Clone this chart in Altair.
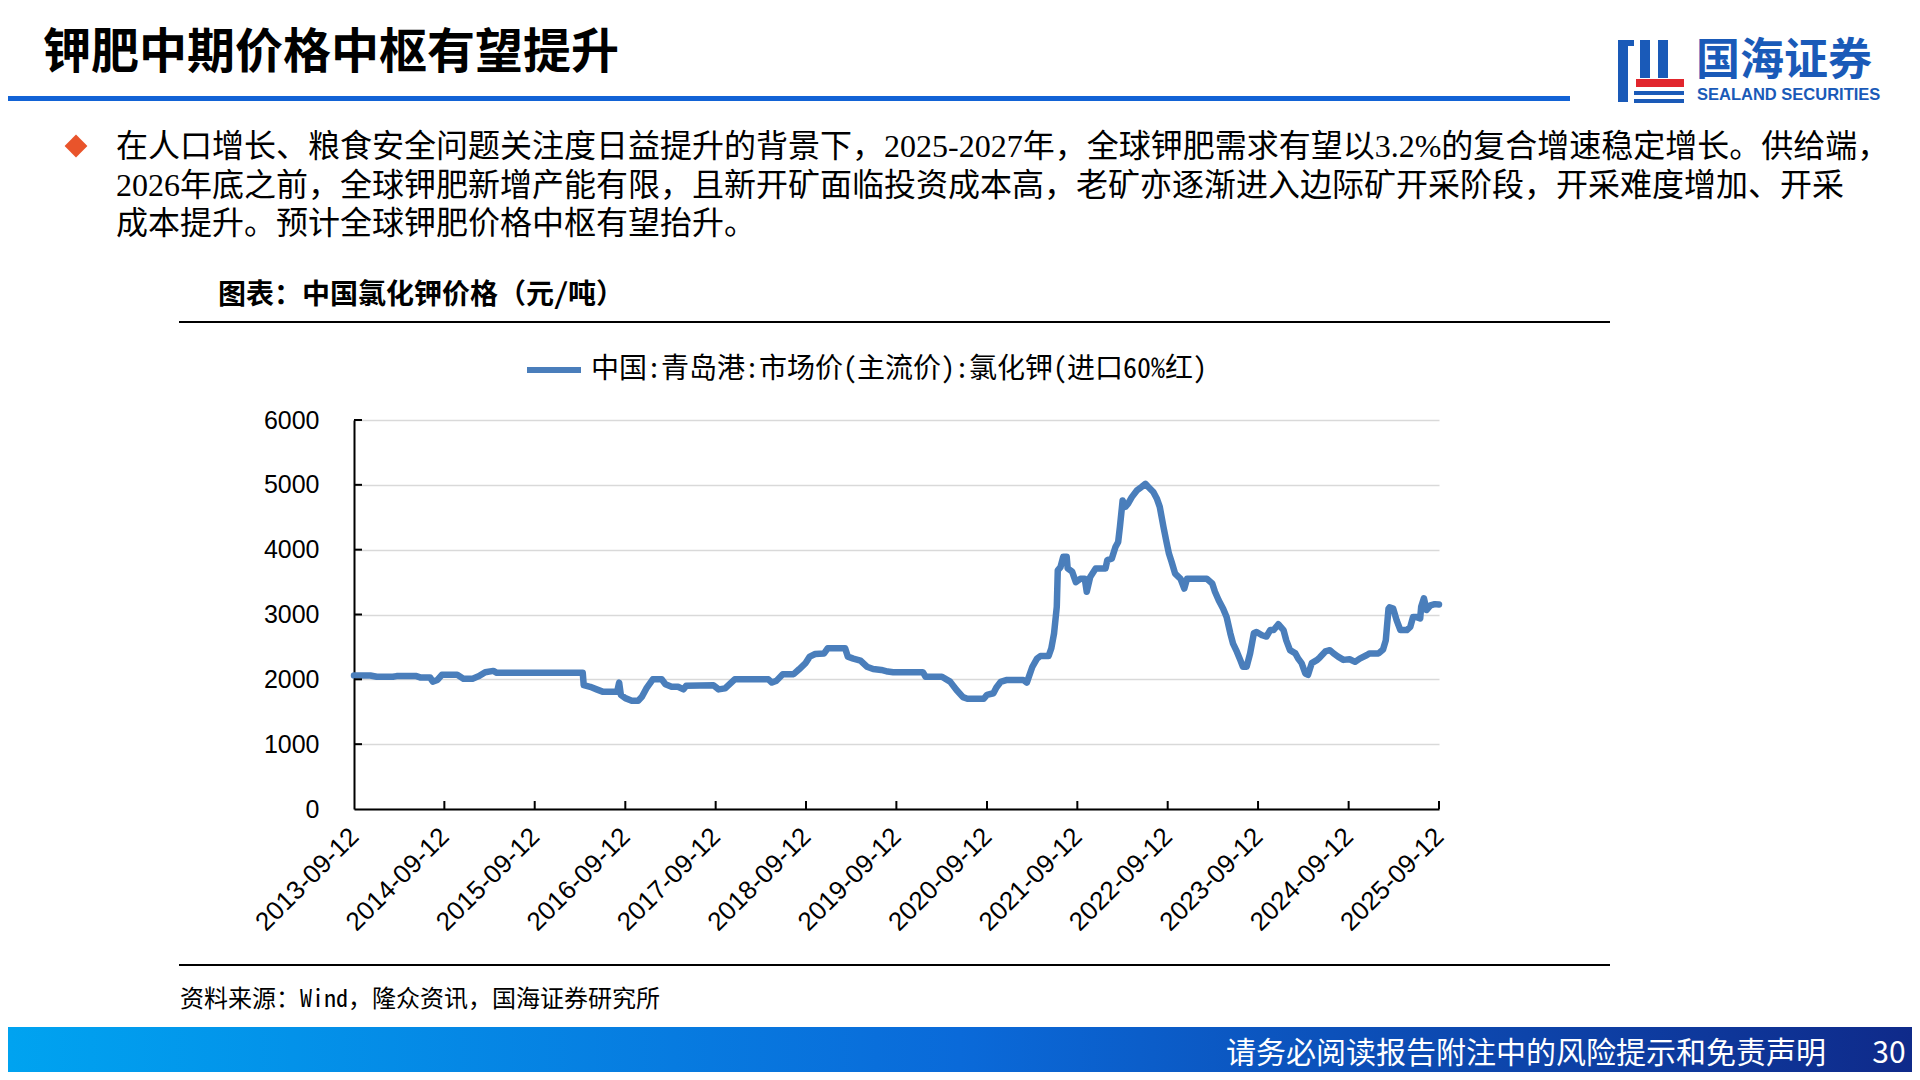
import altair as alt
import pandas as pd

# ---------------- data ----------------
dates = [
    "2013-09-12", "2013-11-17", "2013-12-13", "2014-02-16", "2014-03-03", "2014-05-22",
    "2014-06-06", "2014-07-16", "2014-07-27", "2014-08-15", "2014-09-02", "2014-11-03",
    "2014-11-28", "2015-01-04", "2015-01-30", "2015-02-24", "2015-03-29", "2015-04-12",
    "2016-03-24", "2016-03-28", "2016-04-23", "2016-05-19", "2016-06-12", "2016-08-10",
    "2016-08-18", "2016-08-25", "2016-09-12", "2016-10-08", "2016-11-03", "2016-11-18",
    "2016-12-06", "2017-01-01", "2017-02-06", "2017-02-21", "2017-03-18", "2017-04-13",
    "2017-05-05", "2017-05-16", "2017-09-03", "2017-09-24", "2017-10-20", "2017-11-28",
    "2018-04-13", "2018-04-27", "2018-05-16", "2018-06-10", "2018-07-24", "2018-08-15",
    "2018-09-09", "2018-09-27", "2018-10-19", "2018-11-24", "2018-12-09", "2019-02-17",
    "2019-02-28", "2019-03-22", "2019-04-20", "2019-05-16", "2019-06-10", "2019-07-13",
    "2019-08-08", "2019-08-30", "2019-12-28", "2020-01-08", "2020-03-14", "2020-04-16",
    "2020-05-12", "2020-06-07", "2020-06-25", "2020-08-30", "2020-09-12", "2020-10-08",
    "2020-10-20", "2020-11-06", "2020-12-02", "2021-02-06", "2021-02-20", "2021-03-14",
    "2021-04-02", "2021-04-16", "2021-05-19", "2021-05-30", "2021-06-10", "2021-06-21",
    "2021-06-25", "2021-07-06", "2021-07-17", "2021-07-31", "2021-08-04", "2021-08-22",
    "2021-09-06", "2021-09-24", "2021-10-12", "2021-10-20", "2021-11-03", "2021-11-25",
    "2022-01-04", "2022-01-11", "2022-01-29", "2022-02-13", "2022-02-24", "2022-03-03",
    "2022-03-14", "2022-03-25", "2022-04-05", "2022-04-20", "2022-05-12", "2022-05-30",
    "2022-06-14", "2022-06-28", "2022-07-16", "2022-07-31", "2022-08-11", "2022-08-26",
    "2022-09-06", "2022-09-17", "2022-09-28", "2022-10-12", "2022-11-03", "2022-11-18",
    "2022-11-29", "2023-02-17", "2023-03-11", "2023-03-22", "2023-04-06", "2023-04-24",
    "2023-05-08", "2023-05-23", "2023-06-03", "2023-06-18", "2023-07-02", "2023-07-13",
    "2023-07-28", "2023-08-11", "2023-08-26", "2023-09-06", "2023-09-28", "2023-10-16",
    "2023-10-31", "2023-11-14", "2023-12-03", "2023-12-24", "2024-01-04", "2024-01-19",
    "2024-02-10", "2024-02-21", "2024-03-06", "2024-03-21", "2024-04-01", "2024-04-16",
    "2024-05-08", "2024-05-19", "2024-06-10", "2024-06-28", "2024-07-13", "2024-07-31",
    "2024-08-22", "2024-09-16", "2024-10-08", "2024-10-27", "2024-11-25", "2024-12-06",
    "2025-01-11", "2025-01-29", "2025-02-09", "2025-02-20", "2025-02-24", "2025-03-11",
    "2025-03-25", "2025-04-09", "2025-05-05", "2025-05-19", "2025-05-30", "2025-06-14",
    "2025-06-28", "2025-07-02", "2025-07-13", "2025-07-24", "2025-08-08", "2025-08-26",
    "2025-09-12",
]
prices = [
    2060, 2060, 2040, 2040, 2050, 2050,
    2030, 2030, 1965, 1990, 2070, 2070,
    2010, 2010, 2050, 2110, 2130, 2100,
    2100, 1910, 1885, 1845, 1810, 1810,
    1950, 1760, 1710, 1670, 1670, 1730,
    1860, 2000, 2000, 1925, 1885, 1885,
    1845, 1900, 1910, 1845, 1860, 2000,
    2000, 1950, 1980, 2080, 2080, 2155,
    2245, 2350, 2390, 2400, 2480, 2480,
    2350, 2320, 2290, 2195, 2160, 2145,
    2120, 2110, 2110, 2040, 2040, 1965,
    1835, 1725, 1700, 1700, 1760, 1785,
    1875, 1960, 1990, 1990, 1950, 2190,
    2320, 2360, 2360, 2480, 2710, 3120,
    3680, 3730, 3890, 3890, 3710, 3660,
    3500, 3550, 3550, 3350, 3580, 3710,
    3710, 3840, 3860, 4040, 4120, 4350,
    4760, 4660, 4710, 4810, 4920, 4970,
    5015, 4960, 4890, 4780, 4660, 4350,
    4140, 3940, 3810, 3630, 3550, 3400,
    3550, 3550, 3480, 3350, 3220, 3090,
    2960, 2710, 2550, 2430, 2300, 2195,
    2195, 2400, 2710, 2730, 2680, 2660,
    2760, 2760, 2850, 2760, 2600, 2450,
    2400, 2320, 2250, 2090, 2070, 2250,
    2300, 2340, 2430, 2450, 2400, 2350,
    2300, 2310, 2270, 2320, 2375, 2400,
    2400, 2460, 2600, 3090, 3110, 3090,
    2910, 2760, 2760, 2810, 2960, 2960,
    2940, 3120, 3250, 3070, 3140, 3160,
    3155,
]
series_name = "中国:青岛港:市场价(主流价):氯化钾(进口60%红)"
tick_years = list(range(2013, 2026))
y_ticks = [0, 1000, 2000, 3000, 4000, 5000, 6000]

page_title = "钾肥中期价格中枢有望提升"
bullet_lines = [
    "在人口增长、粮食安全问题关注度日益提升的背景下，2025-2027年，全球钾肥需求有望以3.2%的复合增速稳定增长。供给端，",
    "2026年底之前，全球钾肥新增产能有限，且新开矿面临投资成本高，老矿亦逐渐进入边际矿开采阶段，开采难度增加、开采",
    "成本提升。预计全球钾肥价格中枢有望抬升。",
]
chart_title = "图表：中国氯化钾价格（元/吨）"
source_text = "资料来源：Wind，隆众资讯，国海证券研究所"
footer_text = "请务必阅读报告附注中的风险提示和免责声明"
page_no = "30"
logo_cn = "国海证券"
logo_en = "SEALAND SECURITIES"

# ---------------- layout ----------------
W, H = 1085, 389
PLOT_X, PLOT_Y = 354, 420  # page position of plot origin


def px(x):
    return x - PLOT_X


def py(y):
    return y - PLOT_Y


CJK = "'Noto Sans CJK SC'"
MONO = "'Noto Sans Mono CJK SC', 'Noto Sans CJK SC'"
BODY = "'Liberation Serif', 'Noto Sans CJK SC'"
NUM = "'Liberation Sans Narrow', 'Liberation Sans'"
LINE_COLOR = "#4A7EBB"

df = pd.DataFrame({"date": dates, "price": prices, "series": series_name})
tick_df = pd.DataFrame({"date": [f"{y}-09-12" for y in tick_years[1:]]})
ytick_df = pd.DataFrame({"price": y_ticks[1:]})

xscale = alt.Scale(
    type="utc",
    domain=[alt.DateTime(year=2013, month=9, date=12, utc=True),
            alt.DateTime(year=2025, month=9, date=12, utc=True)],
    nice=False,
)
yscale = alt.Scale(domain=[0, 6000], nice=False)

xaxis = alt.Axis(
    title=None,
    values=[alt.DateTime(year=y, month=9, date=12, utc=True) for y in tick_years],
    labelExpr="utcFormat(datum.value, '%Y-%m-%d')",
    labelAngle=-45, labelAlign="right", labelBaseline="middle",
    labelPadding=23, labelFont=NUM, labelFontSize=26, labelColor="black",
    tickSize=0, grid=False, domainColor="black", domainWidth=2,
    labelOverlap=False, labelBound=False, labelFlush=False,
)
yaxis = alt.Axis(
    title=None, values=y_ticks, labelExpr="format(datum.value, 'd')",
    labelPadding=35, labelFont=NUM,
    labelFontSize=25, labelColor="black", tickSize=0,
    grid=True, gridColor="#d9d9d9", gridWidth=1.6,
    domainColor="black", domainWidth=2,
)

line = alt.Chart(df).mark_line(strokeWidth=6.5, strokeJoin="round", strokeCap="round").encode(
    x=alt.X("date:T", scale=xscale, axis=xaxis),
    y=alt.Y("price:Q", scale=yscale, axis=yaxis),
    color=alt.Color(
        "series:N",
        scale=alt.Scale(range=[LINE_COLOR]),
        legend=alt.Legend(
            orient="none", legendX=px(524), legendY=py(367) - 27, title=None,
            symbolType="stroke", symbolStrokeWidth=6, symbolSize=2916,
            labelFont=MONO, labelFontSize=28, labelColor="black",
            labelLimit=2000, labelOffset=7, padding=0, symbolOffset=0,
        ),
    ),
)

xticks = alt.Chart(tick_df).mark_rule(color="black", strokeWidth=2).encode(
    x=alt.X("date:T", scale=xscale, axis=xaxis), y=alt.value(H), y2=alt.value(H - 8)
)
yticks = alt.Chart(ytick_df).mark_rule(color="black", strokeWidth=2).encode(
    y=alt.Y("price:Q", scale=yscale, axis=yaxis), x=alt.value(0), x2=alt.value(8)
)


def text_layer(txt, x, y, size, font, weight="normal", color="black", align="left"):
    return alt.Chart(pd.DataFrame({"t": [txt]})).mark_text(
        align=align, baseline="middle", fontSize=size, font=font,
        fontWeight=weight, color=color,
    ).encode(x=alt.value(px(x)), y=alt.value(py(y)), text="t:N")


def rect_layer(x1, x2, y1, y2, fill):
    return alt.Chart(pd.DataFrame({"k": [0]})).mark_rect(fill=fill, strokeWidth=0).encode(
        x=alt.value(px(x1)), x2=alt.value(px(x2)), y=alt.value(py(y1)), y2=alt.value(py(y2))
    )


deco = []
# page title + underline
deco.append(text_layer(page_title, 43, 54, 48, CJK, weight="bold"))
deco.append(rect_layer(8, 1570, 96, 101, "#1263D6"))
# logo (icon approximated)
LOGO_BLUE = "#1A5AB8"
deco.append(rect_layer(1618, 1628, 40, 102, LOGO_BLUE))
deco.append(rect_layer(1618, 1634, 40, 46, LOGO_BLUE))
deco.append(rect_layer(1640, 1650, 40, 78, LOGO_BLUE))
deco.append(rect_layer(1658, 1668, 40, 78, LOGO_BLUE))
deco.append(rect_layer(1636, 1684, 79, 87, "#E1262D"))
deco.append(rect_layer(1634, 1684, 91, 95, LOGO_BLUE))
deco.append(rect_layer(1634, 1684, 99, 103, LOGO_BLUE))
deco.append(text_layer(logo_cn, 1696, 62, 44, CJK, weight="bold", color=LOGO_BLUE))
deco.append(text_layer(logo_en, 1697, 95, 16.5, "'Liberation Sans'", weight="bold", color=LOGO_BLUE))
# bullet
deco.append(
    alt.Chart(pd.DataFrame({"k": [0]})).mark_point(
        shape="diamond", filled=True, size=520, color="#E9542B", opacity=1
    ).encode(x=alt.value(px(76)), y=alt.value(py(146)))
)
for i, ln in enumerate(bullet_lines):
    deco.append(text_layer(ln, 116, 147 + 38.5 * i, 32, BODY))
# chart title and rules
deco.append(text_layer(chart_title, 218, 296, 28, MONO, weight="bold"))
deco.append(rect_layer(179, 1610, 321, 323, "black"))
deco.append(rect_layer(179, 1610, 964, 966, "black"))
deco.append(text_layer(source_text, 180, 1000, 24, MONO))
# footer
footer_fill = alt.Gradient(
    gradient="linear",
    stops=[alt.GradientStop(offset=0, color="#00A3F0"),
           alt.GradientStop(offset=0.5, color="#0A6AD9"),
           alt.GradientStop(offset=1, color="#0F2A8A")],
    x1=0, x2=1, y1=0, y2=0,
)
deco.append(rect_layer(8, 1912, 1027, 1080, footer_fill))
deco.append(text_layer(footer_text, 1826, 1054, 30, CJK, color="white", align="right"))
deco.append(text_layer(page_no, 1889, 1054, 30, CJK, color="white", align="center"))

chart = alt.layer(line, xticks, yticks, *deco).properties(
    width=W, height=H,
    padding={"left": PLOT_X - 8, "top": PLOT_Y - 8,
             "right": 1904 - (PLOT_X - 8) - W, "bottom": 1064 - (PLOT_Y - 8) - H},
    autosize=alt.AutoSizeParams(type="none"),
    background="white",
).configure_view(stroke=None)

chart.save("out.html", embed_options={"renderer": "svg", "actions": False})
